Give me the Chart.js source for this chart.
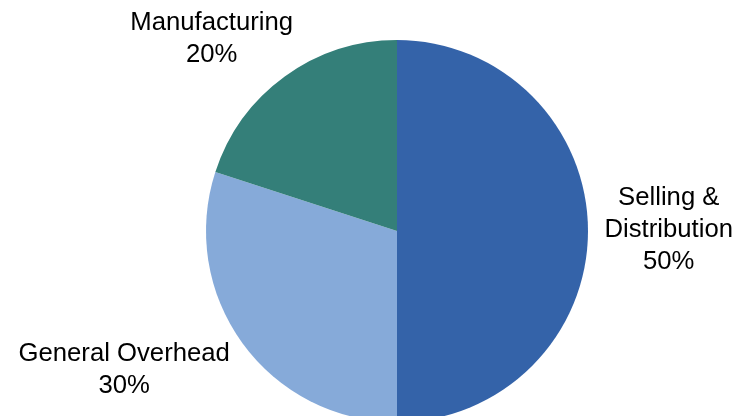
<!DOCTYPE html>
<html>
<head>
<meta charset="utf-8">
<script src="https://cdn.jsdelivr.net/npm/chart.js@4"></script>
<style>
    html, body { margin: 0; padding: 0; background: #fff; overflow: hidden; }
    #wrap { position: relative; width: 738px; height: 430px; }
</style>
</head>
<body>
<div id="wrap"><canvas id="costChart"></canvas></div>
<script>
const categories = ["Selling &\nDistribution", "General Overhead", "Manufacturing"];
const shares = [50, 30, 20];
const sliceColors = ["#3463a9", "#86aad9", "#347f79"];

// small hand nudges so the labels sit where the original puts them
const labelNudge = [[2.5, -1], [-21.5, 0], [-17, -0.5]];

const outsideLabels = {
    id: "outsideLabels",
    afterDraw(chart) {
        const ctx = chart.ctx;
        const total = shares.reduce((a, b) => a + b, 0);
        const lineHeight = 32;
        ctx.save();
        ctx.font = "25.7px 'Liberation Sans', Arial, sans-serif";
        ctx.fillStyle = "#000";
        ctx.textAlign = "center";
        ctx.textBaseline = "middle";
        chart.getDatasetMeta(0).data.forEach((arc, i) => {
            const { x, y, startAngle, endAngle, outerRadius } = arc.getProps(["x", "y", "startAngle", "endAngle", "outerRadius"], true);
            const mid = (startAngle + endAngle) / 2;
            const dx = Math.cos(mid);
            const dy = Math.sin(mid);
            const lines = categories[i].split("\n").concat(Math.round(shares[i] / total * 100) + "%");
            const w = Math.max(...lines.map((l) => ctx.measureText(l).width));
            const h = lines.length * lineHeight;
            const cx = x + dx * (outerRadius + 14) + dx * w / 2 + labelNudge[i][0];
            const cy = y + dy * (outerRadius + 14) + dy * h / 2 + labelNudge[i][1];
            lines.forEach((line, k) => {
                ctx.fillText(line, cx, cy + (k - (lines.length - 1) / 2) * lineHeight);
            });
        });
        ctx.restore();
    }
};

new Chart(document.querySelector("#costChart"), {
    type: "pie",
    data: {
        labels: categories,
        datasets: [{
            data: shares,
            backgroundColor: sliceColors,
            borderWidth: 0,
            hoverOffset: 0
        }]
    },
    options: {
        responsive: true,
        maintainAspectRatio: false,
        animation: false,
        layout: { padding: { left: 206, right: 150, top: 40, bottom: 8 } },
        plugins: { legend: { display: false }, tooltip: { enabled: false } }
    },
    plugins: [outsideLabels]
});
</script>
</body>
</html>
